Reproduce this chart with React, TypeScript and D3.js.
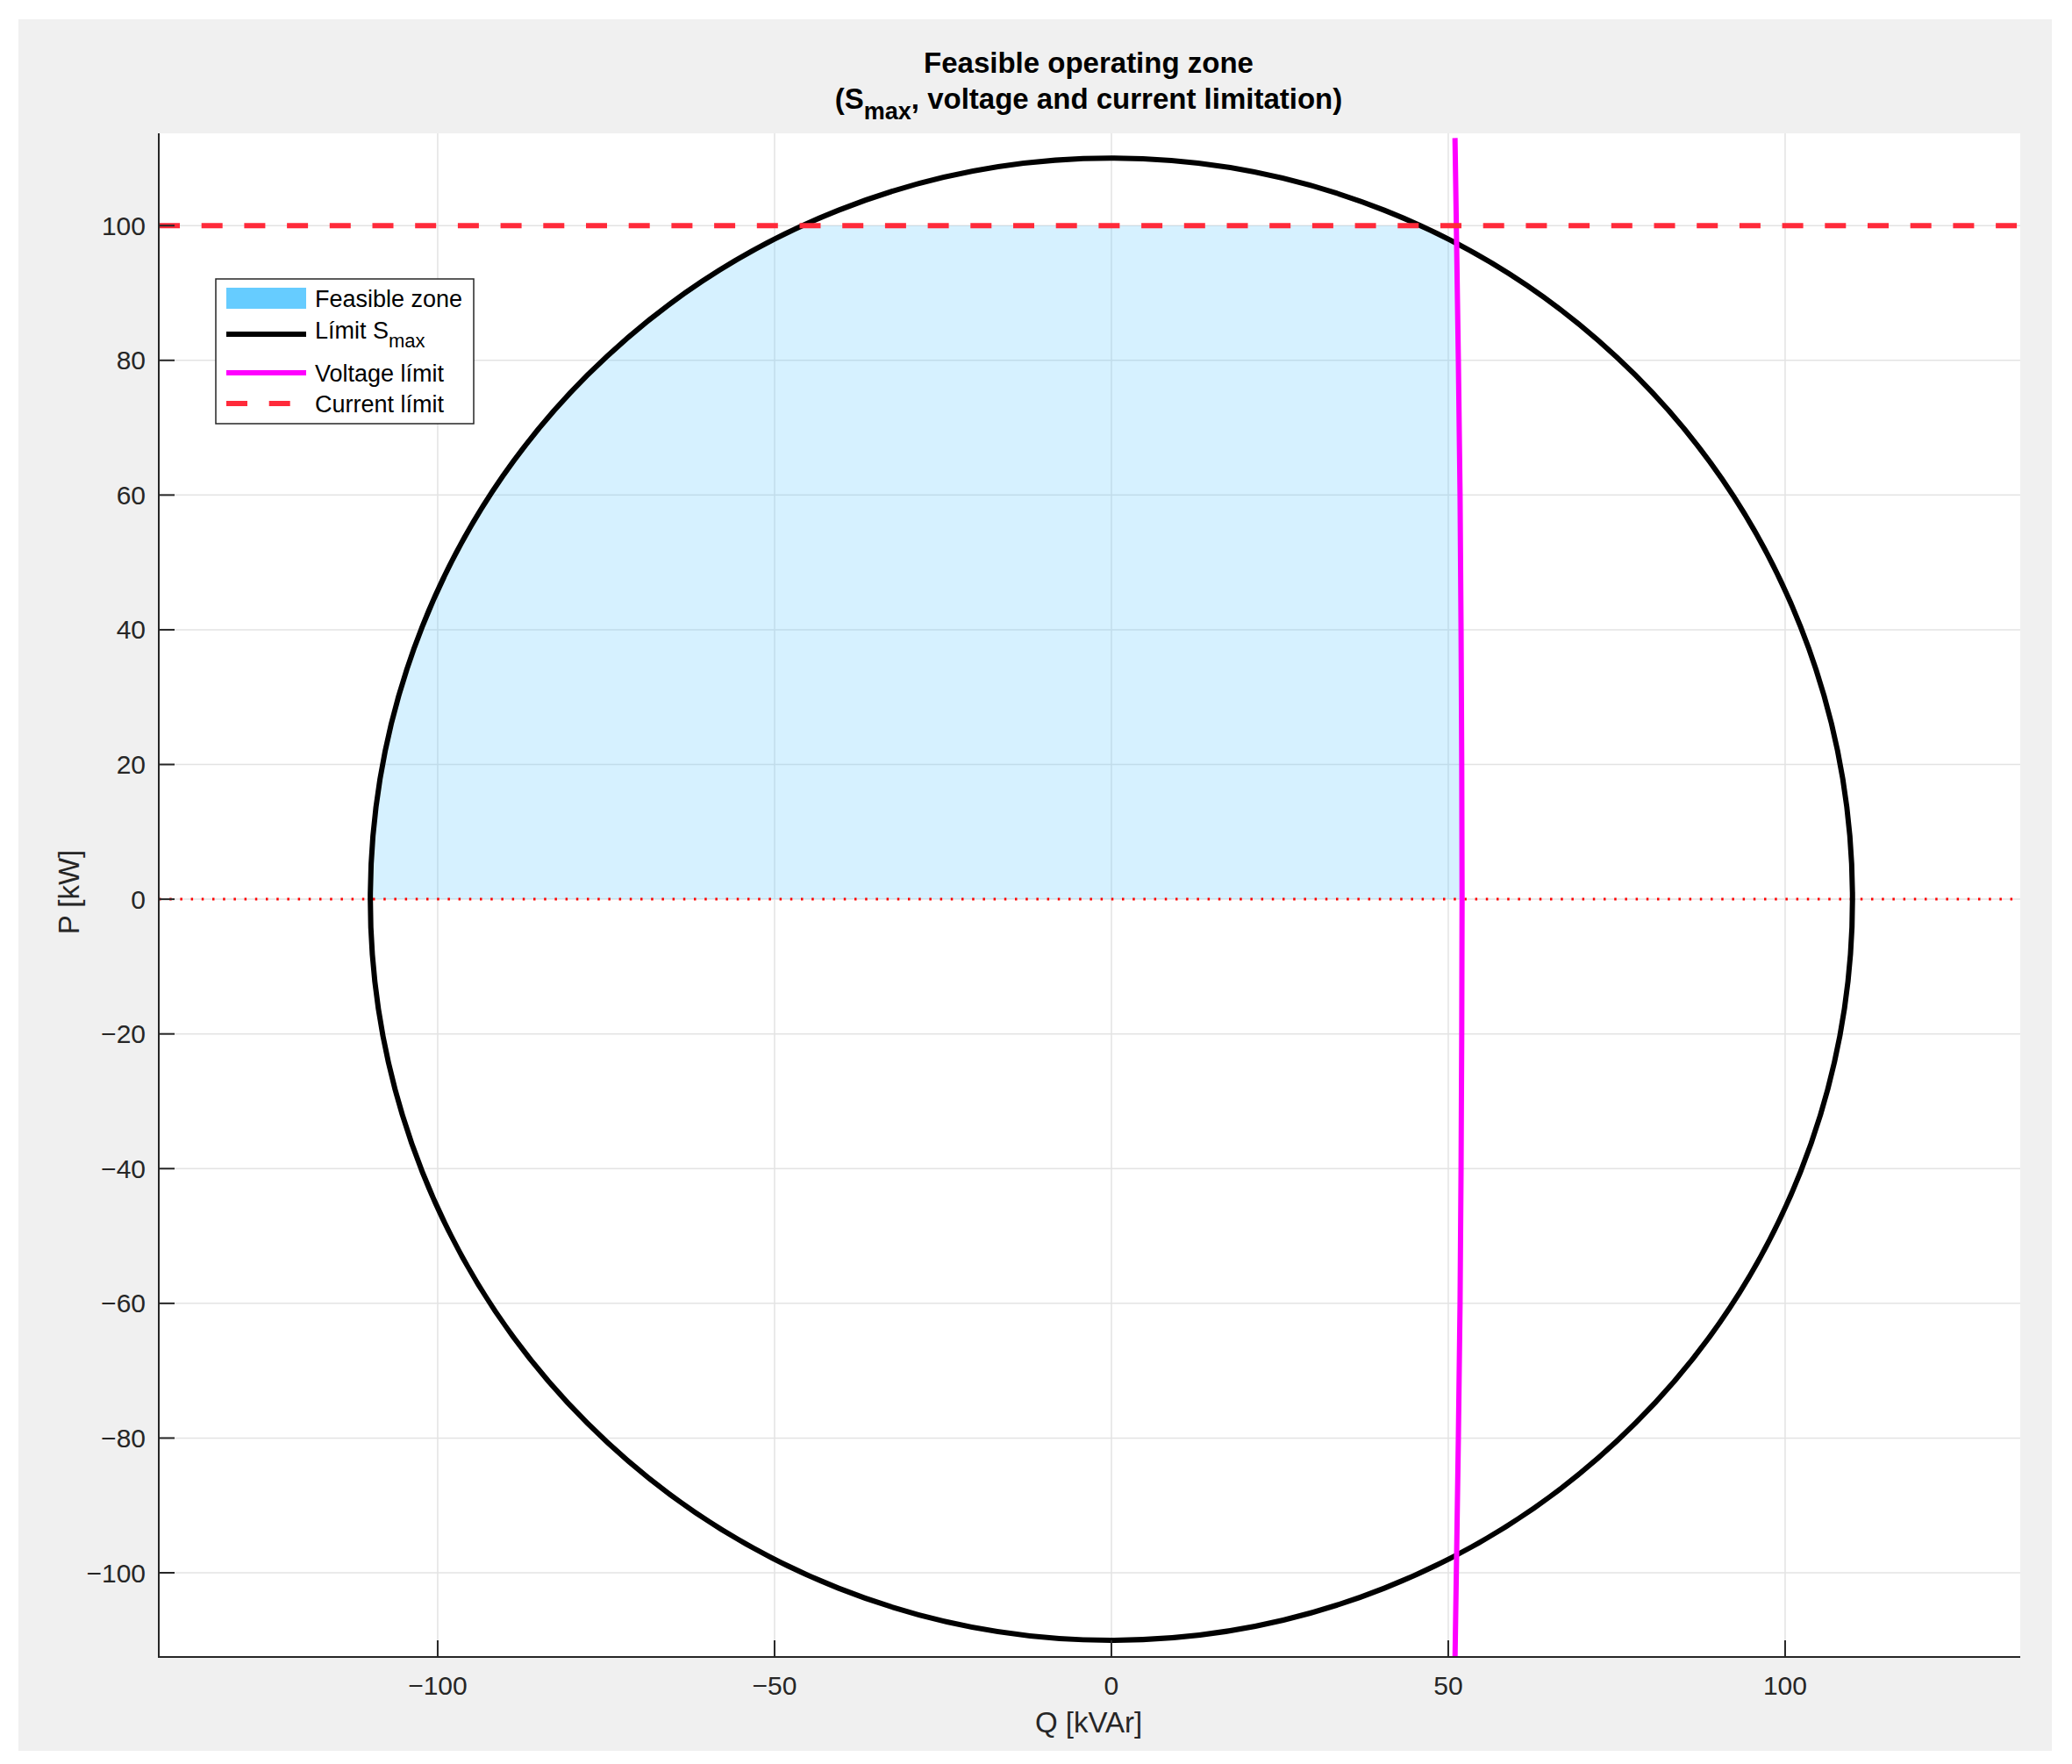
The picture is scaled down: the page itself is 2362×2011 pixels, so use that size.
import React from 'react';
import * as d3 from 'd3';

// chart values
const sMax = 110; // kVA, circle radius
const currentLimit = 100; // kW
const zeroLine = 0;
const qTicks = [-100, -50, 0, 50, 100];
const pTicks = [-100, -80, -60, -40, -20, 0, 20, 40, 60, 80, 100];
const voltageP = [-113, -100, -80, -60, -40, -20, 0, 20, 40, 60, 80, 100, 113];
const voltageQ = [51.0, 51.2, 51.5, 51.75, 51.9, 52.0, 52.05, 52.0, 51.9, 51.75, 51.5, 51.2, 51.0];
const legendItems = ['Feasible zone', 'Límit S', 'Voltage límit', 'Current límit'];

const W = 2362, H = 2011;
const plot = { left: 181, right: 2303, top: 152, bottom: 1889 };
const font = '"Liberation Sans", Arial, Helvetica, sans-serif';
const fillBlue = '#66ccff';
const red = '#ff2a3a';
const magenta = '#ff00ff';
const axisCol = '#262626';
const gridCol = '#e3e3e3';

const fmt = (v: number) => (v < 0 ? '\u2212' + Math.abs(v) : String(v));

export default function App() {
  const x = d3.scaleLinear().domain([-141.4, 134.9]).range([plot.left, plot.right]);
  const y = d3.scaleLinear().domain([-112.5, 113.7]).range([plot.bottom, plot.top]);

  const voltAt = d3.scaleLinear().domain(voltageP).range(voltageQ);
  const line = d3.line<[number, number]>().x(d => x(d[0])).y(d => y(d[1]));

  // feasible zone: inside circle, 0 <= P <= current limit, Q <= voltage limit
  const ps = d3.range(zeroLine, currentLimit + 0.001, 0.5);
  const leftEdge: [number, number][] = ps.map(p => [-Math.sqrt(sMax * sMax - p * p), p]);
  const rightEdge: [number, number][] = ps.slice().reverse()
    .map(p => [Math.min(Math.sqrt(sMax * sMax - p * p), voltAt(p)), p]);
  const zone = line([...leftEdge, ...rightEdge]) + 'Z';

  const voltPts: [number, number][] = voltageP.map((p, i) => [voltageQ[i], p]);

  const lg = { x: 246, y: 318, w: 294, h: 165 };
  const rowY = [340, 379, 425, 460];

  return (
    <svg width={W} height={H} style={{ position: 'absolute', left: 0, top: 0, background: '#fff' }}
      fontFamily={font}>
      <rect x={21} y={22} width={2318} height={1974} fill="#f0f0f0" />
      <rect x={plot.left} y={plot.top} width={plot.right - plot.left} height={plot.bottom - plot.top} fill="#fff" />
      <defs>
        <clipPath id="pc">
          <rect x={plot.left} y={plot.top} width={plot.right - plot.left} height={plot.bottom - plot.top} />
        </clipPath>
      </defs>

      {/* grid */}
      <g stroke={gridCol} strokeWidth={1.5}>
        {qTicks.map(q => <line key={'gx' + q} x1={x(q)} x2={x(q)} y1={plot.top} y2={plot.bottom} />)}
        {pTicks.map(p => <line key={'gy' + p} x1={plot.left} x2={plot.right} y1={y(p)} y2={y(p)} />)}
      </g>

      <g clipPath="url(#pc)">
        <path d={zone} fill={fillBlue} fillOpacity={0.27} stroke="none" />
        <line x1={plot.left} x2={plot.right} y1={y(zeroLine)} y2={y(zeroLine)}
          stroke="#ff0000" strokeWidth={3} strokeDasharray="2.5 9.7" />
        <circle cx={x(0)} cy={y(0)} r={x(sMax) - x(0)} fill="none" stroke="#000" strokeWidth={6} />
        <path d={line(voltPts) || ''} fill="none" stroke={magenta} strokeWidth={6} />
        <line x1={plot.left} x2={plot.right} y1={y(currentLimit)} y2={y(currentLimit)}
          stroke={red} strokeWidth={6} strokeDasharray="24 24.7" />
      </g>

      {/* axes */}
      <g stroke={axisCol} strokeWidth={2}>
        <line x1={plot.left} x2={plot.left} y1={plot.top} y2={plot.bottom + 1} />
        <line x1={plot.left} x2={plot.right} y1={plot.bottom} y2={plot.bottom} />
        {pTicks.map(p => <line key={'ty' + p} x1={plot.left} x2={plot.left + 18} y1={y(p)} y2={y(p)} />)}
        {qTicks.map(q => <line key={'tx' + q} x1={x(q)} x2={x(q)} y1={plot.bottom} y2={plot.bottom - 19} />)}
      </g>
      <g fontSize={30} fill={axisCol}>
        {pTicks.map(p => (
          <text key={'ly' + p} x={166} y={y(p) + 10.5} textAnchor="end">{fmt(p)}</text>
        ))}
        {qTicks.map(q => (
          <text key={'lx' + q} x={x(q)} y={1932} textAnchor="middle">{fmt(q)}</text>
        ))}
      </g>
      <text x={1241} y={1975} textAnchor="middle" fontSize={33} fill={axisCol}>Q [kVAr]</text>
      <text transform="translate(90,1017) rotate(-90)" textAnchor="middle" fontSize={33} fill={axisCol}>P [kW]</text>

      {/* title */}
      <g fontWeight="bold" fontSize={33} fill="#000" textAnchor="middle">
        <text x={1241} y={83}>Feasible operating zone</text>
        <text x={1241} y={124}>(S<tspan fontSize={27} dy={12}>max</tspan><tspan dy={-12}>, voltage and current limitation)</tspan></text>
      </g>

      {/* legend */}
      <rect x={lg.x} y={lg.y} width={lg.w} height={lg.h} fill="#fff" stroke={axisCol} strokeWidth={1.5} />
      <rect x={258} y={rowY[0] - 12} width={91} height={24} fill={fillBlue} />
      <line x1={258} x2={349} y1={rowY[1] + 2} y2={rowY[1] + 2} stroke="#000" strokeWidth={6} />
      <line x1={258} x2={349} y1={rowY[2]} y2={rowY[2]} stroke={magenta} strokeWidth={6} />
      <line x1={258} x2={349} y1={rowY[3]} y2={rowY[3]} stroke={red} strokeWidth={6} strokeDasharray="24 24.7" />
      <g fontSize={27} fill="#000">
        <text x={359} y={rowY[0] + 10}>{legendItems[0]}</text>
        <text x={359} y={rowY[1] + 7}>{legendItems[1]}<tspan fontSize={22} dy={10}>max</tspan></text>
        <text x={359} y={rowY[2] + 10}>{legendItems[2]}</text>
        <text x={359} y={rowY[3] + 10}>{legendItems[3]}</text>
      </g>
    </svg>
  );
}
